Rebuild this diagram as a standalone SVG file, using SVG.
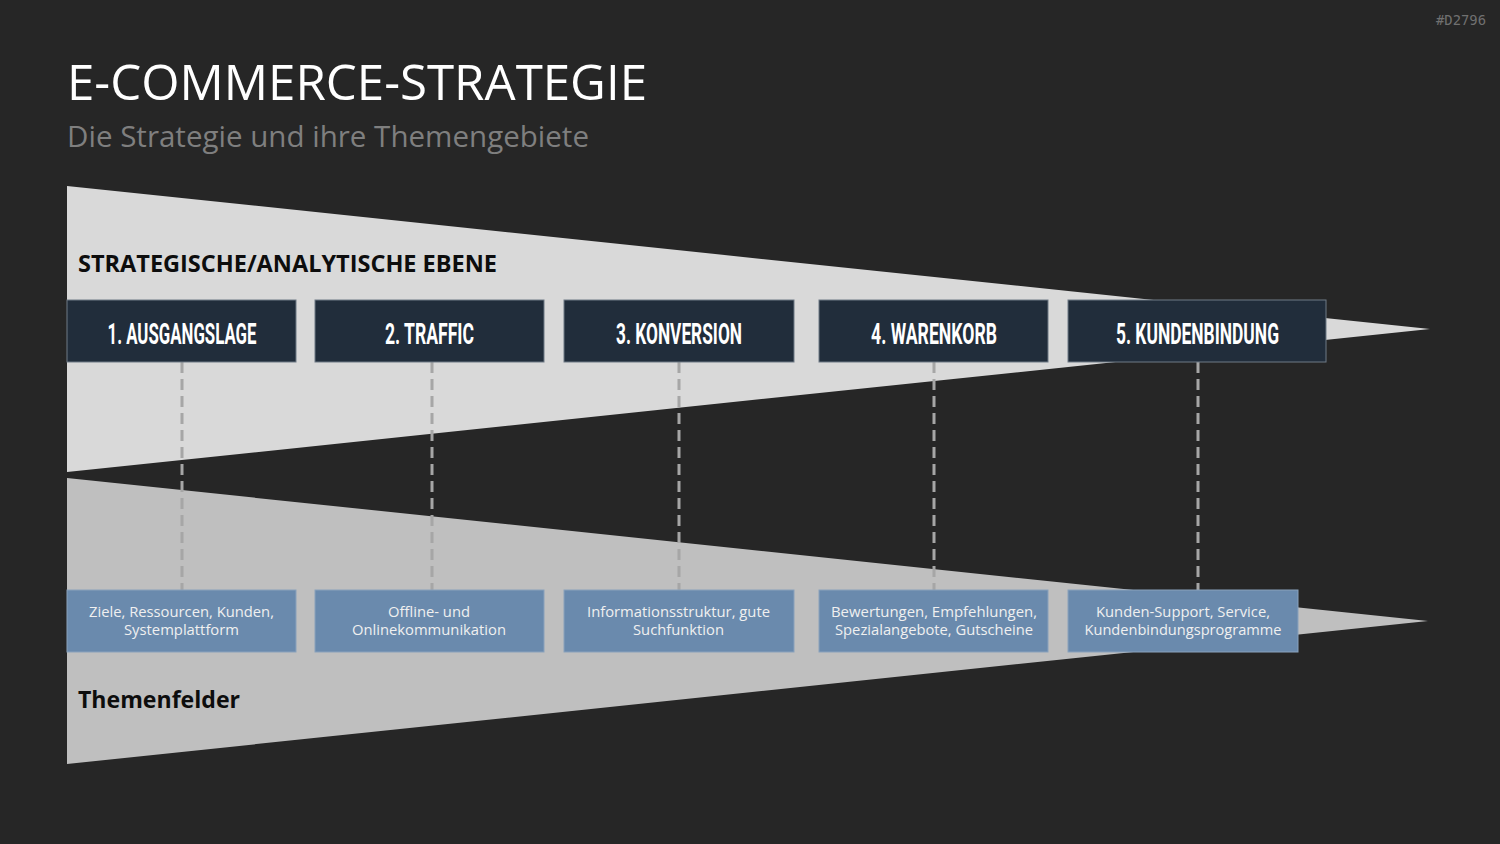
<svg xmlns="http://www.w3.org/2000/svg" width="1500" height="844" viewBox="0 0 1500 844">
<style>
.title{font-family:"Open Sans","Liberation Sans",sans-serif;fill:#ffffff;font-size:50px}
.sub{font-family:"Open Sans","Liberation Sans",sans-serif;fill:#7f7f7f;font-size:29px}
.lbl{font-family:"Open Sans","Liberation Sans",sans-serif;font-weight:bold;fill:#0d0d0d;font-size:24px}
.hd{fill:#212d3b;stroke:#6f7a86;stroke-width:1}
.hdt{font-family:Roboto,"Liberation Sans",sans-serif;font-weight:bold;fill:#ffffff;font-size:29px;text-anchor:middle}
.bx{fill:#6a8aad;stroke:#8aa2bc;stroke-width:1}
.bxt{font-family:"Open Sans","Liberation Sans",sans-serif;fill:#f0f0f0;font-size:14px;text-anchor:middle}
.dash{stroke:#a6a6a6;stroke-width:3;stroke-dasharray:11 6;fill:none}
</style>
<rect width="1500" height="844" fill="#262626"/>
<text x="1486" y="25" font-family="'DejaVu Sans Mono','Liberation Mono',monospace" font-size="14" fill="#707070" text-anchor="end" textLength="50" lengthAdjust="spacingAndGlyphs">#D2796</text>
<text class="title" x="67" y="100" textLength="580" lengthAdjust="spacingAndGlyphs">E-COMMERCE-STRATEGIE</text>
<text class="sub" x="67" y="147" textLength="522" lengthAdjust="spacingAndGlyphs">Die Strategie und ihre Themengebiete</text>
<polygon points="67,186 1430,329 67,472" fill="#d9d9d9"/>
<polygon points="67,478 1428,621 67,764" fill="#bfbfbf"/>
<text class="lbl" x="78" y="272" textLength="419" lengthAdjust="spacingAndGlyphs">STRATEGISCHE/ANALYTISCHE EBENE</text>
<text class="lbl" x="78" y="708" textLength="162" lengthAdjust="spacingAndGlyphs">Themenfelder</text>
<g id="connectors">
<line class="dash" x1="182" y1="362" x2="182" y2="590"/>
<line class="dash" x1="432" y1="362" x2="432" y2="590"/>
<line class="dash" x1="679" y1="362" x2="679" y2="590"/>
<line class="dash" x1="934" y1="362" x2="934" y2="590"/>
<line class="dash" x1="1198" y1="362" x2="1198" y2="590"/>
</g>
<g id="h1"><rect class="hd" x="67" y="300" width="229" height="62"/><text class="hdt" x="182" y="344" textLength="149" lengthAdjust="spacingAndGlyphs">1. AUSGANGSLAGE</text></g>
<g id="h2"><rect class="hd" x="315" y="300" width="229" height="62"/><text class="hdt" x="429.5" y="344" textLength="89" lengthAdjust="spacingAndGlyphs">2. TRAFFIC</text></g>
<g id="h3"><rect class="hd" x="564" y="300" width="230" height="62"/><text class="hdt" x="679" y="344" textLength="126" lengthAdjust="spacingAndGlyphs">3. KONVERSION</text></g>
<g id="h4"><rect class="hd" x="819" y="300" width="229" height="62"/><text class="hdt" x="934" y="344" textLength="126" lengthAdjust="spacingAndGlyphs">4. WARENKORB</text></g>
<g id="h5"><rect class="hd" x="1068" y="300" width="258" height="62"/><text class="hdt" x="1197.5" y="344" textLength="163" lengthAdjust="spacingAndGlyphs">5. KUNDENBINDUNG</text></g>
<g id="b1"><rect class="bx" x="67" y="590" width="229" height="62"/><text class="bxt" x="181.5" y="617" textLength="185" lengthAdjust="spacingAndGlyphs">Ziele, Ressourcen, Kunden,</text><text class="bxt" x="181.5" y="635" textLength="115" lengthAdjust="spacingAndGlyphs">Systemplattform</text></g>
<g id="b2"><rect class="bx" x="315" y="590" width="229" height="62"/><text class="bxt" x="429" y="617" textLength="82" lengthAdjust="spacingAndGlyphs">Offline- und</text><text class="bxt" x="429" y="635" textLength="154" lengthAdjust="spacingAndGlyphs">Onlinekommunikation</text></g>
<g id="b3"><rect class="bx" x="564" y="590" width="230" height="62"/><text class="bxt" x="678.5" y="617" textLength="183" lengthAdjust="spacingAndGlyphs">Informationsstruktur, gute</text><text class="bxt" x="678.5" y="635" textLength="91" lengthAdjust="spacingAndGlyphs">Suchfunktion</text></g>
<g id="b4"><rect class="bx" x="819" y="590" width="229" height="62"/><text class="bxt" x="934" y="617" textLength="206" lengthAdjust="spacingAndGlyphs">Bewertungen, Empfehlungen,</text><text class="bxt" x="934" y="635" textLength="198" lengthAdjust="spacingAndGlyphs">Spezialangebote, Gutscheine</text></g>
<g id="b5"><rect class="bx" x="1068" y="590" width="230" height="62"/><text class="bxt" x="1183" y="617" textLength="174" lengthAdjust="spacingAndGlyphs">Kunden-Support, Service,</text><text class="bxt" x="1183" y="635" textLength="197" lengthAdjust="spacingAndGlyphs">Kundenbindungsprogramme</text></g>
</svg>
